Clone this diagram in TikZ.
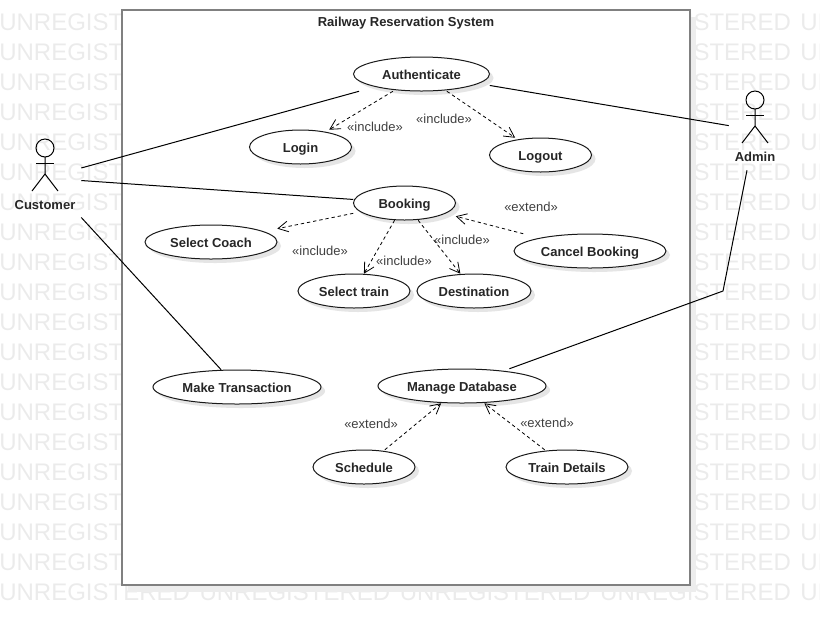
\documentclass[tikz,border=0pt]{standalone}
\usepackage{fontspec}
\setmainfont{Liberation Sans}
\usetikzlibrary{arrows.meta, shapes.geometric, shadows}
\tikzset{
  usecaseshape/.style={ellipse, draw=black!90, line width=0.75pt, fill=white, inner sep=0pt, minimum height=25.5pt,
    general shadow={shadow xshift=3pt, shadow yshift=-3pt, fill=black!10}},
  usecasebox/.style={rectangle, inner sep=0pt, minimum height=25.5pt, text height=7.5pt, text depth=0pt,
    font=\fontsize{9.75}{12}\bfseries, text=black!85},
  actorbox/.style={rectangle, inner sep=0pt, minimum width=#1, minimum height=60pt},
  actorname/.style={font=\fontsize{9.75}{12}\bfseries, text=black!85, inner sep=0pt},
  stereo/.style={font=\fontsize{9.75}{12}\selectfont, text=black!75, inner sep=0pt},
  assoc/.style={black, line width=0.75pt},
  dep/.style={black, line width=0.6pt, dash pattern=on 2.5pt off 2.2pt, -{Straight Barb[length=7.5pt, width=8pt]}},
  watermark/.style={anchor=west, inner sep=0pt, font=\fontsize{18}{20}\selectfont, text=black!8},
  actorfig/.pic={
    \draw[line width=0.75pt] (0,-30) circle (9);
    \draw[line width=0.75pt] (-9,-15) -- (9,-15);
    \draw[line width=0.75pt] (0,-21) -- (0,-4) -- (-13,13);
    \draw[line width=0.75pt] (0,-4) -- (13,13);
  }
}
\newcommand{\usecase}[5]{
  \node[usecaseshape, minimum width=#4] (#1shape) at (#2,#3) {};
  \node[usecasebox, minimum width=#4] (#1) at (#2,#3) {#5};
}
\begin{document}
\begin{tikzpicture}[x=0.75pt, y=-0.75pt]
\useasboundingbox (0,0) rectangle (820,626);
\begin{scope}
\clip (0,0) rectangle (820,626);
\foreach \r in {0,...,19}
  \foreach \c in {0,...,4}
    \node[watermark] (wm-\r-\c) at (\c*200.3-1, 22+\r*30) {UNREGISTERED};
\end{scope}

\node[rectangle, draw=black!50, line width=1.5pt, fill=white, minimum width=426pt, minimum height=431.25pt, inner sep=0pt,
  general shadow={shadow xshift=4.5pt, shadow yshift=-5pt, fill=black!7}] (system) at (406,297.5) {};
\node[actorname] (title) at (406,23) {Railway Reservation System};

\node[actorbox=54pt] (customer) at (45,178) {};
\node[actorbox=39pt] (admin) at (755,130) {};
\pic at (45,178) {actorfig};
\pic at (755,130) {actorfig};
\node[actorname] (customername) at (45,205) {Customer};
\node[actorname] (adminname) at (755,157) {Admin};

\usecase{authenticate}{421.5}{74}{102pt}{Authenticate}
\usecase{login}{300.5}{147}{76.5pt}{Login}
\usecase{logout}{540.5}{155}{76.5pt}{Logout}
\usecase{booking}{404.5}{203}{76.5pt}{Booking}
\usecase{coach}{211}{242}{99pt}{Select Coach}
\usecase{cancel}{590}{251}{114pt}{Cancel Booking}
\usecase{train}{354}{291}{84pt}{Select train}
\usecase{destination}{474}{291}{85.5pt}{Destination}
\usecase{transaction}{237}{387}{126pt}{Make Transaction}
\usecase{database}{462}{386}{126pt}{Manage Database}
\usecase{schedule}{364}{467}{76.5pt}{Schedule}
\usecase{details}{567}{467}{91.5pt}{Train Details}

\coordinate (adminbend) at (723,291);
\draw[assoc] (customer) -- (authenticate);
\draw[assoc] (customer) -- (booking);
\draw[assoc] (customer) -- (transaction);
\draw[assoc] (authenticate) -- (admin);
\draw[assoc] (admin) -- (adminbend) -- (database);

\draw[dep] (authenticate) -- (login);
\draw[dep] (authenticate) -- (logout);
\draw[dep] (booking) -- (coach);
\draw[dep] (booking) -- (train);
\draw[dep] (booking) -- (destination);
\draw[dep] (cancel) -- (booking);
\draw[dep] (schedule) -- (database);
\draw[dep] (details) -- (database);

\node[stereo] (inclogin) at (375,127) {«include»};
\node[stereo] (inclogout) at (444,119) {«include»};
\node[stereo] (inccoach) at (320,251) {«include»};
\node[stereo] (inctrain) at (404,261) {«include»};
\node[stereo] (incdest) at (462,240) {«include»};
\node[stereo] (extcancel) at (531,207) {«extend»};
\node[stereo] (extschedule) at (371,424) {«extend»};
\node[stereo] (extdetails) at (547,423) {«extend»};
\end{tikzpicture}
\end{document}
